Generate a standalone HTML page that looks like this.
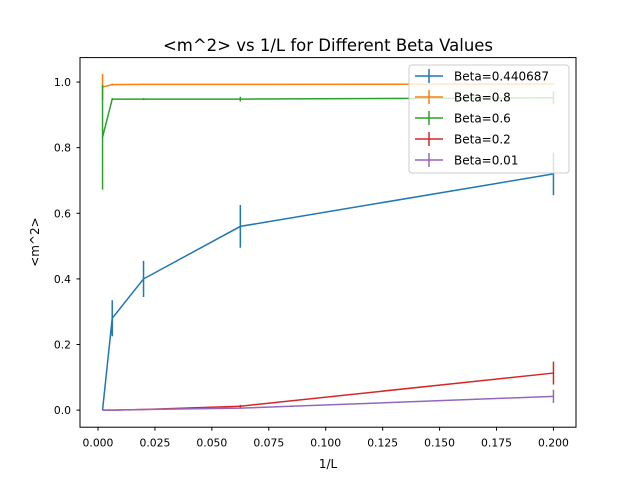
<!DOCTYPE html>
<html><head><meta charset="utf-8"><style>
body{margin:0;background:#fff}
svg{display:block;font-family:"DejaVu Sans","Liberation Sans",sans-serif}
</style></head><body>
<svg id="chart" width="640" height="480" viewBox="0 0 640 480" xmlns="http://www.w3.org/2000/svg">
<rect width="640" height="480" fill="#fff"/>
<text x="328" y="51" font-size="16.5" text-anchor="middle">&lt;m^2&gt; vs 1/L for Different Beta Values</text>
<text x="328" y="468" font-size="12" text-anchor="middle">1/L</text>
<text x="0" y="0" font-size="12" text-anchor="middle" transform="translate(39,242) rotate(-90)">&lt;m^2&gt;</text>
<g id="xt"></g>
<g id="yt"></g>
<g id="series"></g>
<rect x="80" y="57.6" width="496" height="369.6" fill="none" stroke="#000" stroke-width="1"/>
<g id="legend"></g>
</svg>
<script>
const xs = [0.002, 0.00625, 0.02, 0.0625, 0.2];
const seriesNames = ["Beta=0.440687","Beta=0.8","Beta=0.6","Beta=0.2","Beta=0.01"];
const colors = ["#1f77b4","#ff7f0e","#2ca02c","#d62728","#9467bd"];
const yBlue = [0.0, 0.28, 0.40, 0.56, 0.72];
const eBlue = [0.0, 0.055, 0.055, 0.065, 0.065];
const yOrange = [0.985, 0.992, 0.993, 0.993, 0.994];
const eOrange = [0.04, 0.003, 0.002, 0.002, 0.002];
const yGreen = [0.832, 0.948, 0.948, 0.948, 0.952];
const eGreen = [0.16, 0.003, 0.003, 0.007, 0.02];
const yRed = [0.0, 0.0, 0.002, 0.012, 0.113];
const eRed = [0.0, 0.0, 0.001, 0.004, 0.035];
const yPurple = [0.0, 0.0, 0.002, 0.006, 0.042];
const ePurple = [0.0, 0.0, 0.001, 0.002, 0.02];
const xTicks = [0, 0.025, 0.05, 0.075, 0.1, 0.125, 0.15, 0.175, 0.2];
const xTickLabels = ["0.000","0.025","0.050","0.075","0.100","0.125","0.150","0.175","0.200"];
const yTicks = [0, 0.2, 0.4, 0.6, 0.8, 1.0];
const yTickLabels = ["0.0","0.2","0.4","0.6","0.8","1.0"];

const NS="http://www.w3.org/2000/svg";
const X0=80,X1=576,Y0=427.2,Y1=57.6;
const xmin=-0.0079,xmax=0.2099,ymin=-0.052,ymax=1.0745;
const sx=v=>X0+(v-xmin)/(xmax-xmin)*(X1-X0);
const sy=v=>Y0-(v-ymin)/(ymax-ymin)*(Y0-Y1);
function mk(tag,attrs,parent){const e=document.createElementNS(NS,tag);for(const k in attrs)e.setAttribute(k,attrs[k]);parent.appendChild(e);return e;}

const xt=document.getElementById('xt');
xTicks.forEach((t,i)=>{
  const l=mk('line',{x1:sx(t),x2:sx(t),y1:Y0,y2:Y0+3.5,stroke:'#000'},xt);
  
  
  const tx=mk('text',{x:sx(t),y:Y0+19.5,'font-size':10.8,'text-anchor':'middle'},xt);
  tx.textContent=xTickLabels[i];
  
  
});
const yt=document.getElementById('yt');
yTicks.forEach((t,i)=>{
  const l=mk('line',{x1:X0-3.5,x2:X0,y1:sy(t),y2:sy(t),stroke:'#000'},yt);
  
  
  const tx=mk('text',{x:X0-9,y:sy(t)+4,'font-size':10.8,'text-anchor':'end'},yt);
  tx.textContent=yTickLabels[i];
  
  
});

const allY=[yBlue,yOrange,yGreen,yRed,yPurple];
const allE=[eBlue,eOrange,eGreen,eRed,ePurple];
const sg=document.getElementById('series');
allY.forEach((ys,s)=>{
  const g=mk('g',{},sg);
  
  
  const pts=xs.map((x,i)=>sx(x)+','+sy(ys[i])).join(' ');
  const pl=mk('polyline',{points:pts,fill:'none',stroke:colors[s],'stroke-width':1.5},g);
  
  
  xs.forEach((x,i)=>{
    const e=allE[s][i];
    const b=mk('line',{x1:sx(x),x2:sx(x),y1:sy(ys[i]-e),y2:sy(ys[i]+e),stroke:colors[s],'stroke-width':1.5},g);
    
    
  });
});

const lg=document.getElementById('legend');
const box=mk('rect',{x:409,y:65,width:160,height:108,rx:3,fill:'#fff','fill-opacity':0.8,stroke:'#ccc'},lg);


seriesNames.forEach((n,i)=>{
  const y=76+i*21;
  const g=mk('g',{},lg);
  
  
  mk('line',{x1:415,x2:443,y1:y,y2:y,stroke:colors[i],'stroke-width':1.5},g);
  mk('line',{x1:429,x2:429,y1:y-7,y2:y+7,stroke:colors[i],'stroke-width':1.5},g);
  const t=mk('text',{x:454,y:y+4.5,'font-size':12},g);
  t.textContent=n;
});
</script>
</body></html>
